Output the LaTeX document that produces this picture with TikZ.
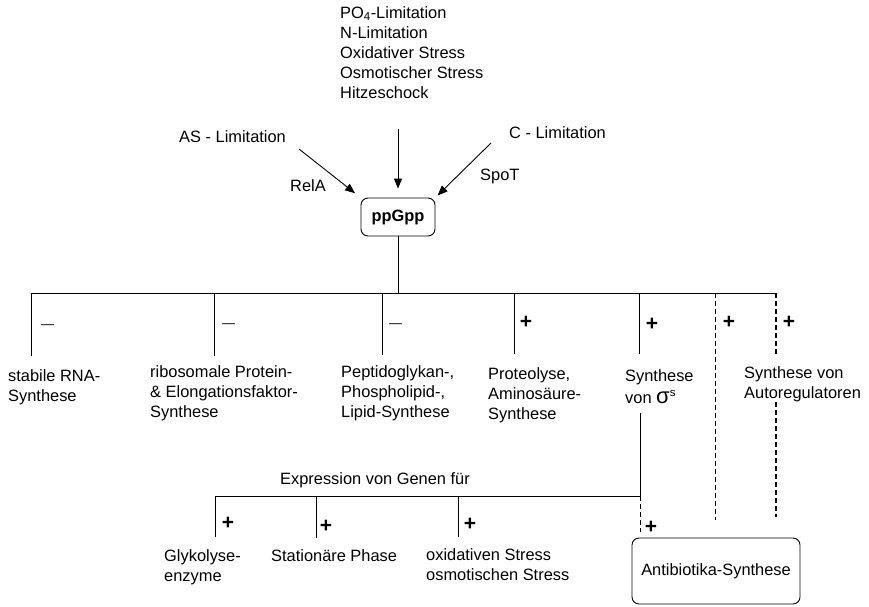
\documentclass[tikz,border=0pt]{standalone}
\usepackage{fontspec}
\setmainfont{Liberation Sans}
\usetikzlibrary{arrows.meta}
\begin{document}
\begin{tikzpicture}[x=1pt,y=-1pt,
  txt/.style={inner sep=0pt,font=\fontsize{16.4}{20}\selectfont,align=left},
  lbl/.style={txt,anchor=north west},
  pl/.style={inner sep=0pt,font=\fontsize{21}{21}\selectfont\bfseries},
  mn/.style={inner sep=0pt,font=\fontsize{13}{13}\selectfont},
  ln/.style={line width=0.9pt},
  arr/.style={line width=0.9pt,-{Triangle[length=10pt,width=8pt]}},
  dsh/.style={line width=0.9pt,dash pattern=on 5pt off 3pt},
  dshb/.style={line width=1.6pt,dash pattern=on 5pt off 3pt},
  rbox/.style={draw,line width=0.9pt,rounded corners=7pt}]
\useasboundingbox (0,0) rectangle (869,606);

% top
\node[lbl] (po4) at (340,6) {PO\textsubscript{4}-Limitation\\N-Limitation\\Oxidativer Stress\\Osmotischer Stress\\Hitzeschock};
\node[txt,anchor=west] (as) at (179,137) {AS - Limitation};
\node[txt,anchor=west] (cl) at (509,133) {C - Limitation};
\node[txt,anchor=west] (rela) at (290,186) {RelA};
\node[txt,anchor=west] (spot) at (480,176) {SpoT};
\node[rbox,minimum width=74pt,minimum height=38pt,inner sep=0pt,font=\fontsize{16.4}{20}\selectfont\bfseries] (ppgpp) at (398,217) {ppGpp};

\coordinate (a1) at (299,149);
\coordinate (a2) at (398,129);
\coordinate (a3) at (491,143);
\draw[arr,shorten >=7pt] (a1) -- (ppgpp.north west);
\draw[arr,shorten >=9pt] (a2) -- (ppgpp.north);
\draw[arr,shorten >=3pt] (a3) -- (ppgpp.north east);

% main tree
\coordinate (hub) at (398,293);
\coordinate (hl) at (31,293);
\coordinate (hr) at (776,293);
\draw[ln] (ppgpp.south) -- (hub);
\draw[ln] (hl) -- (hr);
\draw[ln] (31,293) -- (31,356);
\draw[ln] (214,293) -- (214,356);
\draw[ln] (382,293) -- (382,355);
\draw[ln] (514,293) -- (514,354);
\draw[ln] (639,293) -- (639,354);
\draw[dsh] (715,293) -- (715,520);
\draw[dshb] (776,293) -- (776,354);
\draw[dshb] (776,402) -- (776,517);

\node[mn] (m1) at (47.5,327) {—};
\node[mn] (m2) at (228.5,326) {—};
\node[mn] (m3) at (395.5,326) {—};
\node[pl] (p1) at (526,322) {+};
\node[pl] (p2) at (652,324) {+};
\node[pl] (p3) at (729,322) {+};
\node[pl] (p4) at (789,322) {+};

\node[lbl] (t1) at (8,369) {stabile RNA-\\Synthese};
\node[lbl] (t2) at (150,365) {ribosomale Protein-\\\& Elongationsfaktor-\\Synthese};
\node[lbl] (t3) at (341,365) {Peptidoglykan-,\\Phospholipid-,\\Lipid-Synthese};
\node[lbl] (t4) at (488,367) {Proteolyse,\\Aminosäure-\\Synthese};
\node[lbl] (t5) at (625,369) {Synthese\\[2pt]von {\fontsize{22}{22}\selectfont σ}\textsuperscript{s}};
\node[lbl] (t6) at (744,366) {Synthese von\\Autoregulatoren};

% sigma subtree
\coordinate (s1) at (640,413);
\coordinate (s2) at (640,496);
\coordinate (s3) at (215,496);
\draw[ln] (s1) -- (s2) -- (s3);
\draw[dsh] (s2) -- (640,532);
\node[txt,anchor=west] (expr) at (280,480) {Expression von Genen für};
\draw[ln] (215,496) -- (215,537);
\draw[ln] (316,496) -- (316,538);
\draw[ln] (458,496) -- (458,537);
\node[pl] (q1) at (228,523) {+};
\node[pl] (q2) at (326,526) {+};
\node[pl] (q3) at (470,524) {+};
\node[pl] (q4) at (651,527) {+};

\node[lbl] (g1) at (164,549) {Glykolyse-\\enzyme};
\node[lbl] (g2) at (271,549) {Stationäre Phase};
\node[lbl] (g3) at (426,548) {oxidativen Stress\\osmotischen Stress};

\node[rbox,minimum width=168pt,minimum height=66pt,inner sep=0pt,font=\fontsize{16.4}{20}\selectfont] (anti) at (716,571) {Antibiotika-Synthese};
\end{tikzpicture}
\end{document}
